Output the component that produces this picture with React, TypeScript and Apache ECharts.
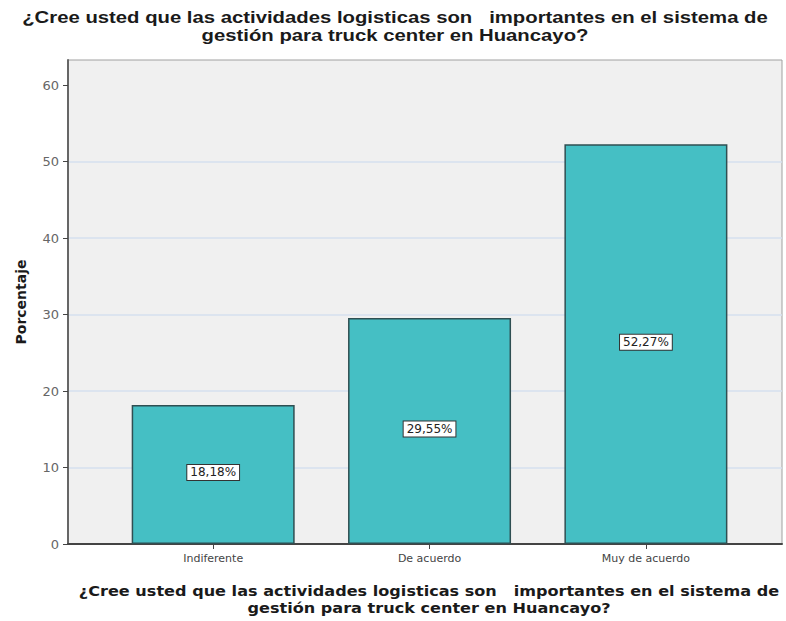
import React, { useEffect, useRef } from "react";
import * as echarts from "echarts";

const titleText =
  "¿Cree usted que las actividades logisticas son   importantes en el sistema de\ngestión para truck center en Huancayo?";
const xAxisTitle = titleText;
const yAxisTitle = "Porcentaje";
const categories = ["Indiferente", "De acuerdo", "Muy de acuerdo"];
const percentages = [18.18, 29.55, 52.27];
const percentLabels = ["18,18%", "29,55%", "52,27%"];
const yTicks = [0, 10, 20, 30, 40, 50, 60];
const categoryPositions = [0, 1, 2];

const SANS = "DejaVu Sans, Verdana, sans-serif";
const ARIAL = "Liberation Sans, Arial, sans-serif";

export default function App() {
  const ref = useRef<HTMLDivElement>(null);
  useEffect(() => {
    if (!ref.current) return;
    const chart = echarts.init(ref.current, null, { renderer: "svg" });
    chart.setOption({
      animation: false,
      backgroundColor: "#ffffff",
      graphic: [
        {
          type: "text",
          x: 395,
          y: 8,
          scaleX: 1.27,
          silent: true,
          style: {
            text: titleText,
            fill: "#1a1a1a",
            fontFamily: ARIAL,
            fontWeight: "bold",
            fontSize: 16,
            lineHeight: 18,
            align: "center",
            verticalAlign: "top",
          },
        },
        {
          type: "text",
          x: 429,
          y: 583,
          scaleX: 1.15,
          silent: true,
          style: {
            text: xAxisTitle,
            fill: "#1a1a1a",
            fontFamily: SANS,
            fontWeight: "bold",
            fontSize: 14,
            lineHeight: 17,
            align: "center",
            verticalAlign: "top",
          },
        },
      ],
      grid: {
        left: 68,
        right: 4,
        top: 60,
        bottom: 77,
        show: true,
        backgroundColor: "#f0f0f0",
        borderColor: "#a0a0a0",
        borderWidth: 1,
      },
      xAxis: {
        type: "value",
        min: -0.671,
        max: 2.629,
        splitLine: { show: false },
        axisLine: { onZero: false, lineStyle: { color: "#444", width: 2 } },
        axisTick: {
          customValues: categoryPositions,
          length: 5,
          lineStyle: { color: "#444", width: 1 },
        },
        axisLabel: {
          customValues: categoryPositions,
          formatter: (v: number) =>
            Number.isInteger(v) && categories[v] ? categories[v] : "",
          fontFamily: SANS,
          fontSize: 11,
          color: "#444",
          margin: 9,
        },
      },
      yAxis: {
        type: "value",
        min: 0,
        max: 63.3,
        interval: 10,
        name: yAxisTitle,
        nameLocation: "middle",
        nameGap: 40,
        nameTextStyle: {
          fontFamily: SANS,
          fontWeight: "bold",
          fontSize: 14,
          color: "#1a1a1a",
        },
        axisLine: {
          show: true,
          onZero: false,
          lineStyle: { color: "#666", width: 2 },
        },
        axisTick: {
          show: true,
          customValues: yTicks,
          length: 5,
          lineStyle: { color: "#444", width: 1 },
        },
        axisLabel: {
          customValues: yTicks,
          fontFamily: SANS,
          fontSize: 13,
          color: "#666",
          margin: 9,
        },
        splitLine: {
          show: true,
          showMinLine: false,
          showMaxLine: false,
          lineStyle: { color: "#d6e1ef", width: 1.5 },
        },
      },
      series: [
        {
          type: "bar",
          barWidth: 163,
          data: percentages.map((v, i) => [categoryPositions[i], v]),
          itemStyle: {
            color: "#45bfc4",
            borderColor: "#2f4f52",
            borderWidth: 1.5,
          },
          label: {
            show: true,
            position: "inside",
            offset: [0, -2],
            formatter: (p: any) => percentLabels[p.dataIndex],
            fontFamily: SANS,
            fontSize: 12,
            color: "#222",
            backgroundColor: "#ffffff",
            borderColor: "#333",
            borderWidth: 1,
            padding: [2, 3, 1, 3],
          },
        },
      ],
    });
    return () => chart.dispose();
  }, []);
  return (
    <div
      ref={ref}
      style={{ position: "absolute", left: 0, top: 0, width: 786, height: 621 }}
    />
  );
}
